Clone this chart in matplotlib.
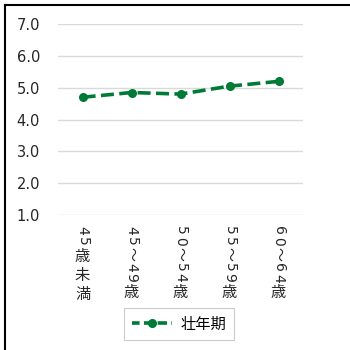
import matplotlib
matplotlib.use("Agg")
import matplotlib.pyplot as plt
from matplotlib.lines import Line2D

plt.rcParams['font.family'] = ['DejaVu Sans', 'Noto Sans CJK JP']

categories = ["45歳未満", "45～49歳", "50～54歳", "55～59歳", "60～64歳"]
values = [4.7, 4.85, 4.8, 5.05, 5.2]
yticks = [1.0, 2.0, 3.0, 4.0, 5.0, 6.0, 7.0]
series_name = "壮年期"

green = "#007A37"

fig = plt.figure(figsize=(3.5, 3.5), dpi=100)
ax = fig.add_axes([0.166, 0.386, 0.70, 0.545])

x = list(range(len(values)))
ax.plot(x, values, color=green, lw=2.6, ls=(0, (3.6, 1.5)), marker='o',
        markersize=5.5, label=series_name)

ax.set_xlim(-0.5, len(values) - 0.5)
ax.set_ylim(1.0, 7.0)
ax.set_yticks(yticks)
ax.set_yticklabels([f"{v:.1f}" for v in yticks], fontsize=10.5, color="#262626")
ax.yaxis.grid(True, color="#d9d9d9", lw=1)
ax.set_axisbelow(True)
for s in ax.spines.values():
    s.set_visible(False)
ax.tick_params(axis='y', length=0, pad=13)
ax.set_xticks([])

# vertical (tategaki) category labels: digits/tilde rotated, kanji upright
for i, label in enumerate(categories):
    prev = None
    for ch in label:
        rot = ch.isdigit() or ch == "～"
        fam = 'DejaVu Sans' if ch.isdigit() else 'Noto Sans CJK JP'
        size = 10 if rot else 11
        kw = dict(rotation=270 if rot else 0, ha='center', va='top',
                  fontsize=size, color="#262626", family=fam)
        if prev is None:
            prev = ax.annotate(ch, xy=(i, 0), xycoords=('data', 'axes fraction'),
                               xytext=(0, -8), textcoords='offset points', **kw)
        else:
            gap = -1.4 if ch.isdigit() else (-1.0 if ch == "～" else -1.5)
            prev = ax.annotate(ch, xy=(0.5, 0), xycoords=prev,
                               xytext=(0, gap), textcoords='offset points', **kw)

handle = Line2D([], [], color=green, lw=2.6, ls=(0.5, (2.6, 1.2)), marker='o',
                markersize=5.5)
leg = fig.legend([handle], [series_name], loc='center', bbox_to_anchor=(0.511, 0.074),
                 frameon=True, fancybox=False, fontsize=11, handlelength=2.6,
                 borderpad=0.55, handletextpad=0.55, borderaxespad=0)
leg.get_frame().set_edgecolor("#bfbfbf")
leg.get_frame().set_linewidth(0.8)

# outer border (left and top only visible)
fig.add_artist(Line2D([4.5/350, 4.5/350], [0, 1 - 4.5/350], transform=fig.transFigure,
                      color='black', lw=1.5))
fig.add_artist(Line2D([4.5/350, 1], [1 - 4.5/350, 1 - 4.5/350], transform=fig.transFigure,
                      color='black', lw=1.5))

fig.savefig("out.png", dpi=100)
